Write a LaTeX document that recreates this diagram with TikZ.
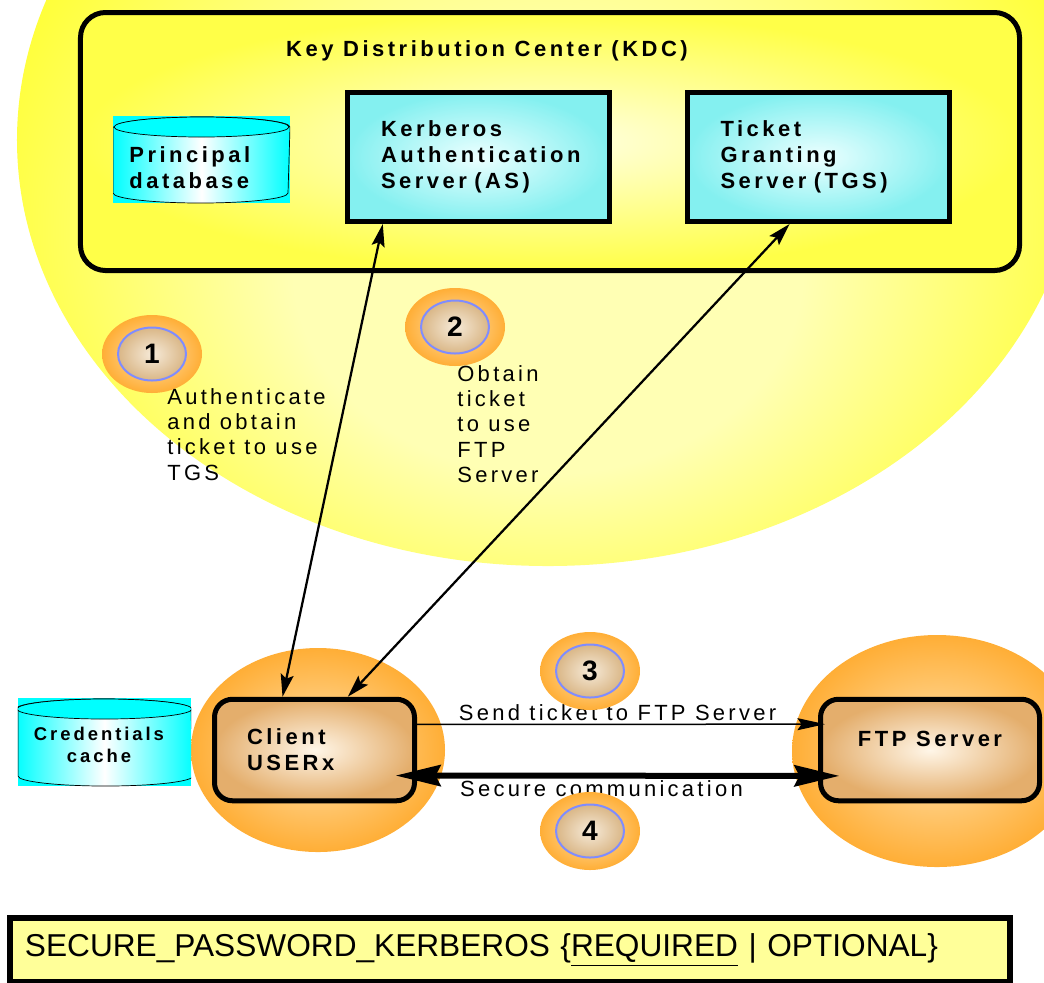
\documentclass[tikz,border=0pt]{standalone}
\usepackage{fontspec}
\setmainfont{Liberation Sans}
\newfontfamily\boxfont{Liberation Sans}[LetterSpace=16]
\newfontfamily\lblfont{Liberation Sans}[LetterSpace=15]
\usetikzlibrary{shapes.geometric,arrows.meta}

\definecolor{glowin}{HTML}{FFFFB4}
\definecolor{glowout}{HTML}{FFFF00}
\definecolor{kdcin}{HTML}{FFFFE4}
\definecolor{kdcout}{HTML}{FFFF48}
\definecolor{cyanin}{HTML}{ECFFFF}
\definecolor{cyanout}{HTML}{84F0F0}
\definecolor{drumcyan}{HTML}{00FFFF}
\definecolor{haloin}{HTML}{FFE2AE}
\definecolor{haloout}{HTML}{FFAE36}
\definecolor{tanin}{HTML}{FFF6E8}
\definecolor{tanout}{HTML}{E4AE6C}
\definecolor{dotin}{HTML}{F6EAD8}
\definecolor{dotout}{HTML}{CC9E60}
\definecolor{dotring}{HTML}{7F8CFF}
\definecolor{reqyellow}{HTML}{FFFF99}

\pgfdeclareradialshading{kdcglow}{\pgfpoint{0bp}{-10bp}}{color(0bp)=(glowin); color(12bp)=(glowin); color(34bp)=(glowout); color(50bp)=(glowout)}

\begin{document}
\begin{tikzpicture}[x=0.2mm, y=0.2mm,
    kdcbox/.style={rectangle, rounded corners=5mm, draw, line width=1mm,
      inner color=kdcin, outer color=kdcout,
      minimum width=187.8mm, minimum height=51.6mm},
    server/.style={rectangle, draw, line width=1mm, inner color=cyanin, outer color=cyanout,
      minimum width=52.4mm, minimum height=25.8mm, text width=39mm, align=left,
      font=\boxfont\bfseries\fontsize{12.5}{14.8}\selectfont},
    drum/.style={rectangle, fill=drumcyan, inner sep=0pt,
      path picture={
        \path[draw=black, thin, left color=drumcyan, right color=drumcyan, middle color=white]
          ([yshift=-2.2mm]path picture bounding box.north west)
          -- ([yshift=2mm]path picture bounding box.south west)
          arc[start angle=180, end angle=360, x radius=17.5mm, y radius=2mm]
          -- ([yshift=-2.2mm]path picture bounding box.north east)
          arc[start angle=0, end angle=180, x radius=17.5mm, y radius=2mm] -- cycle;
        \draw[thin, fill=drumcyan] ([yshift=-2.2mm]path picture bounding box.north)
          ellipse[x radius=17.5mm, y radius=2mm];}},
    drumtext/.style={inner sep=0pt, font=\boxfont\bfseries\fontsize{12.5}{14.8}\selectfont},
    halo/.style={ellipse, inner color=haloin, outer color=haloout},
    hostbox/.style={rectangle, rounded corners=3.6mm, draw, line width=1mm,
      inner color=tanin, outer color=tanout, minimum height=20.3mm, align=left,
      font=\boxfont\bfseries\fontsize{12.5}{14.8}\selectfont},
    badge/.style={ellipse, minimum width=20mm, minimum height=15.6mm,
      inner color=haloin, outer color=haloout,
      font=\bfseries\fontsize{16}{16}\selectfont,
      path picture={
        \path[draw=dotring, line width=0.4mm, inner color=dotin, outer color=dotout]
          (path picture bounding box.center) ellipse[x radius=6.8mm, y radius=5.3mm];}},
    steptext/.style={anchor=north west, inner sep=0pt, align=left,
      font=\lblfont\fontsize{12.5}{14.4}\selectfont},
    linktext/.style={font=\lblfont\fontsize{12.5}{14.4}\selectfont},
    link/.style={line width=0.45mm, >={Stealth[length=4.5mm, width=2.6mm, inset=0.8mm]}, <->},
    sendlink/.style={line width=0.3mm, >={Stealth[length=5.5mm, width=2.4mm, inset=0.8mm]}, ->,
      shorten >=-1.4mm},
    securelink/.style={line width=1.2mm, >={Stealth[length=9mm, width=4.2mm, inset=1mm]}, <->,
      shorten <=-4.3mm, shorten >=-4.3mm},
    reqbox/.style={rectangle, draw, line width=1.2mm, fill=reqyellow,
      minimum height=12.8mm, text width=194mm, inner xsep=3mm, align=left,
      font=\fontsize{18}{20}\selectfont}]
  % Define the canvas
  \useasboundingbox (0,0) rectangle (1044,-982);
  \clip (0,0) rectangle (1044,-982);
  % Yellow glow behind the KDC
  \shade[shading=kdcglow] (548,-140) ellipse[x radius=106.2mm, y radius=85.2mm];
  % Key Distribution Center
  \node[kdcbox] (kdc) at (550,-141.5) {};
  \node[font=\boxfont\bfseries\fontsize{12.5}{14.8}\selectfont] (kdctitle) at (487,-51) {Key Distribution Center (KDC)};
  \node[drum, minimum width=35.4mm, minimum height=17.4mm] (pdb) at (201.5,-159.5) {};
  \node[drumtext, anchor=north west, align=left] (pdbtext) at (129,-146) {Principal\\database};
  \node[server] (as) at (478.5,-157) {Kerberos\\Authentication\\Server (AS)};
  \node[server] (tgs) at (818,-157) {Ticket\\Granting\\Server (TGS)};
  % Steps 1 and 2
  \node[badge] (b1) at (152,-354) {1};
  \node[badge] (b2) at (455,-327) {2};
  \node[steptext] (t1) at (167,-388) {Authenticate\\and obtain\\ticket to use\\TGS};
  \node[steptext] (t2) at (457,-365) {Obtain\\ticket\\to use\\FTP\\Server};
  % Client and FTP server
  \node[halo, minimum width=50.8mm, minimum height=40.8mm] (clienthalo) at (318,-750) {};
  \node[drum, minimum width=34.6mm, minimum height=17.6mm] (cache) at (104.5,-742) {};
  \node[drumtext, align=center, font=\boxfont\bfseries\fontsize{10.5}{12.8}\selectfont] (cachetext) at (99,-745) {Credentials\\cache};
  \node[hostbox, minimum width=40mm, text width=27mm] (client) at (314.5,-750) {Client\\USERx};
  \node[halo, minimum width=58mm, minimum height=46.4mm] (ftphalo) at (937,-751) {};
  \node[hostbox, minimum width=43.8mm, align=center, text depth=4.6mm] (ftp) at (930,-750) {FTP Server};
  % Connectors
  \draw[link] (client.121) -- (as.215);
  \draw[link] (client.58) -- (tgs.247);
  \draw[sendlink] (client.14) -- node[above, inner sep=1.5pt, linktext] (sendlbl) {Send ticket to FTP Server} (ftp.167);
  \draw[securelink] (client.-14) -- node[below, pos=0.46, inner sep=1pt, linktext] (securelbl) {Secure communication} (ftp.193);
  % Steps 3 and 4
  \node[badge] (b3) at (590,-671) {3};
  \node[badge] (b4) at (590,-831) {4};
  % Setting
  \node[reqbox] (req) at (510,-950) {SECURE\_PASSWORD\_KERBEROS \{\underline{REQUIRED} | OPTIONAL\}};
\end{tikzpicture}
\end{document}
